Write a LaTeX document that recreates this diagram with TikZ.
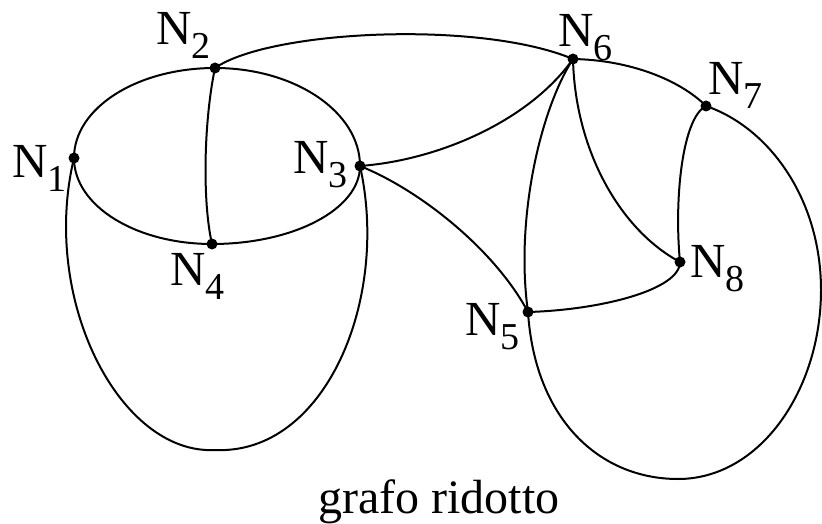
\documentclass[tikz,border=0pt]{standalone}
\usepackage{fontspec}
\setmainfont{Liberation Serif}
\newcommand{\lbl}[1]{N\raisebox{-14pt}{\fontsize{38}{38}\selectfont #1}}
\begin{document}
\begin{tikzpicture}[x=1pt,y=-1pt,
  vtx/.style={circle,fill=black,inner sep=0pt,minimum size=11pt},
  lab/.style={anchor=base west,inner sep=0pt,font=\fontsize{49}{49}\selectfont},
  edge/.style={line width=2pt}]
\useasboundingbox (0,0) rectangle (822,524);
% vertices
\node[vtx] (N1) at (74,158) {};
\node[vtx] (N2) at (215,68) {};
\node[vtx] (N3) at (360,166) {};
\node[vtx] (N4) at (212,244) {};
\node[vtx] (N5) at (528,312) {};
\node[vtx] (N6) at (573,59) {};
\node[vtx] (N7) at (706,106) {};
\node[vtx] (N8) at (680,262) {};
% labels
\node[lab] (L1) at (12,177) {\lbl{1}};
\node[lab] (L2) at (156,45) {\lbl{2}};
\node[lab] (L3) at (293,173) {\lbl{3}};
\node[lab] (L4) at (170,285) {\lbl{4}};
\node[lab] (L5) at (465,335) {\lbl{5}};
\node[lab] (L6) at (558,47) {\lbl{6}};
\node[lab] (L7) at (708,95) {\lbl{7}};
\node[lab] (L8) at (690,277) {\lbl{8}};
\node[anchor=base,inner sep=0pt,font=\fontsize{48}{48}\selectfont] (cap) at (439,513) {grafo ridotto};
% auxiliary coordinates
\coordinate (b1) at (215,450);
\coordinate (b2) at (678,479);
\coordinate (r2) at (821,290);
% edges
\begin{scope}[edge]
\draw (N1.center) .. controls (74,108) and (137,68) .. (N2.center);
\draw (N2.center) .. controls (295,68) and (360,112) .. (N3.center);
\draw (N3.center) .. controls (360,209) and (294,244) .. (N4.center);
\draw (N4.center) .. controls (136,244) and (74,206) .. (N1.center);
\draw (N2.center) .. controls (204,120) and (202,200) .. (N4.center);
\draw (N2.center) .. controls (270,30) and (480,20) .. (N6.center);
\draw (N3.center) .. controls (440,160) and (530,120) .. (N6.center);
\draw (N3.center) .. controls (420,190) and (495,250) .. (N5.center);
\draw (N6.center) .. controls (540,110) and (515,220) .. (N5.center);
\draw (N6.center) .. controls (575,150) and (620,230) .. (N8.center);
\draw (N6.center) .. controls (630,60) and (680,80) .. (N7.center);
\draw (N7.center) .. controls (682,118) and (674,200) .. (N8.center);
\draw (N5.center) .. controls (600,310) and (680,290) .. (N8.center);
\draw (N1.center) .. controls (40,300) and (120,455) .. (b1)
      .. controls (325,455) and (390,300) .. (N3.center);
\draw (N5.center) .. controls (535,420) and (600,479) .. (b2)
      .. controls (760,479) and (821,390) .. (r2)
      .. controls (821,200) and (770,128) .. (N7.center);
\end{scope}
\end{tikzpicture}
\end{document}
